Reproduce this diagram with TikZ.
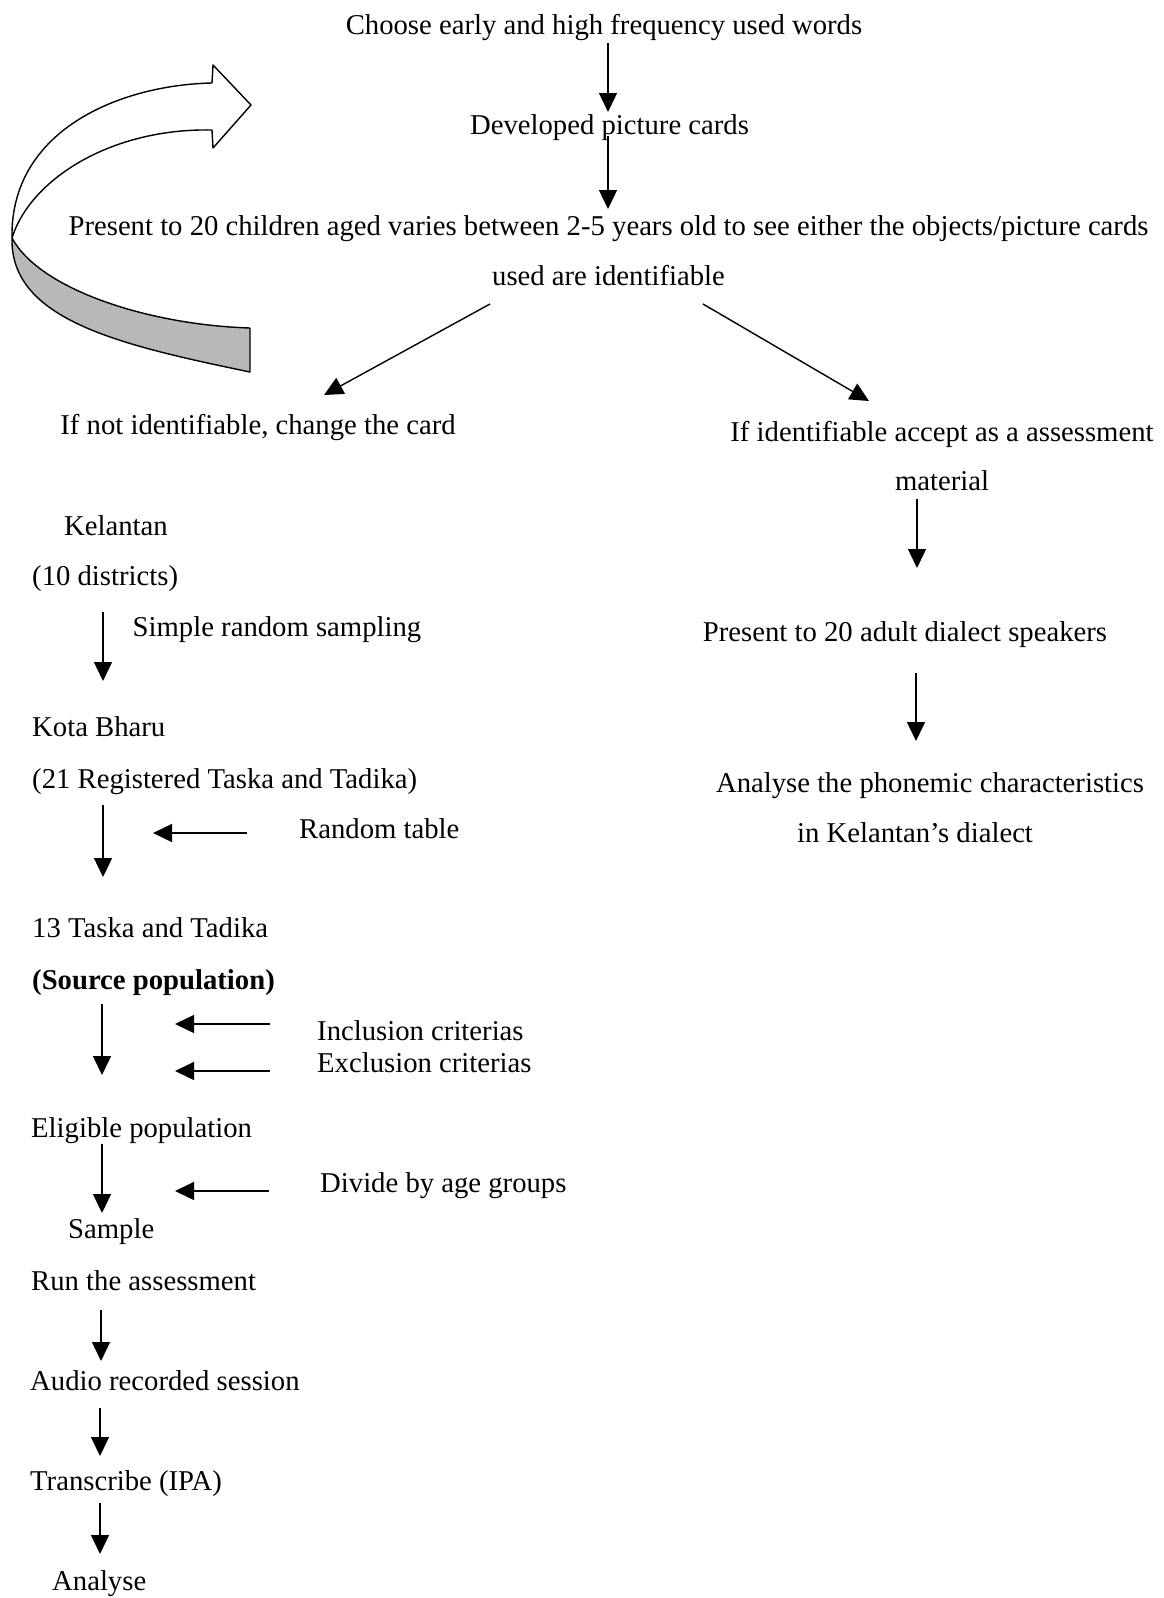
\documentclass[tikz,border=0pt]{standalone}
\usepackage{fontspec}
\setmainfont{Liberation Serif}
\usetikzlibrary{arrows.meta,calc}
\begin{document}
\begin{tikzpicture}[x=1pt,y=-1pt,
  txt/.style={inner sep=0pt,font=\fontsize{28.7}{34}\selectfont},
  ctr/.style={txt,anchor=base},
  lft/.style={txt,anchor=base west},
  arr/.style={-{Triangle[length=19pt,width=18pt]},line width=1.4pt},
  band/.style={draw=black,line width=1.4pt,line join=round}]
\useasboundingbox (0,0) rectangle (1163,1598);
% loop-back arrow
\filldraw[band,fill=black!28] (12,238) .. controls (40,290) and (150,325) .. (250,328)
  -- (250,372) .. controls (120,345) and (10,320) .. (12,238) -- cycle;
\filldraw[band,fill=white] (12,238) .. controls (10,130) and (120,85) .. (212,83)
  -- (213,65) -- (251,105) -- (213,148) -- (212,130)
  .. controls (110,128) and (30,180) .. (12,238) -- cycle;
% top part
\node[ctr] (choose) at (604,34) {Choose early and high frequency used words};
\node[ctr] (dev) at (609.5,134) {Developed picture cards};
\node[ctr] (pres1) at (608.5,235) {Present to 20 children aged varies between 2-5 years old to see either the objects/picture cards};
\node[ctr] (pres2) at (608.5,285) {used are identifiable};
\node[ctr] (notid) at (258,434) {If not identifiable, change the card};
\node[ctr] (isid) at (942,441) {If identifiable accept as a assessment};
\node[ctr] (mat) at (942,490) {material};
\node[ctr] (adult) at (905,641) {Present to 20 adult dialect speakers};
\node[ctr] (phon1) at (930,792) {Analyse the phonemic characteristics};
\node[ctr] (phon2) at (915,842) {in Kelantan's dialect};
\draw[arr] ($(choose.base)+(4,9)$) -- ($(dev.base)+(-1.5,-22)$);
\draw[arr] ($(dev.base)+(-1.5,2)$) -- ($(pres1.base)+(-0.5,-26)$);
\draw[arr] ($(pres2.base)+(-118.5,19)$) -- ($(notid.base)+(66,-39)$);
\draw[arr] ($(pres2.base)+(94.5,19)$) -- ($(isid.base)+(-73,-40)$);
\draw[arr] ($(mat.base)+(-25,9)$) -- ($(adult.base)+(12,-73)$);
\draw[arr] ($(adult.base)+(11,32)$) -- ($(phon1.base)+(-14,-51)$);
% sampling
\node[lft] (kel) at (64,535) {Kelantan};
\node[lft] (dist) at (32,585) {(10 districts)};
\node[lft] (srs) at (132.5,636) {Simple random sampling};
\node[lft] (kota) at (32,736) {Kota Bharu};
\node[lft] (reg) at (32,788) {(21 Registered Taska and Tadika)};
\node[lft] (rt) at (299,838) {Random table};
\node[lft] (taska) at (32,937) {13 Taska and Tadika};
\node[lft,font=\fontsize{28.7}{34}\selectfont\bfseries] (source) at (32,989) {(Source population)};
\node[lft] (incl) at (317,1040) {Inclusion criterias};
\node[lft] (excl) at (317,1072) {Exclusion criterias};
\node[lft] (elig) at (31,1137) {Eligible population};
\node[lft] (div) at (320,1192) {Divide by age groups};
\node[lft] (sample) at (68,1238) {Sample};
\node[lft] (run) at (31,1290) {Run the assessment};
\node[lft] (audio) at (30,1390) {Audio recorded session};
\node[lft] (trans) at (30,1490) {Transcribe (IPA)};
\node[lft] (anal) at (52,1590) {Analyse};
\draw[arr] ($(dist.base west)+(71,27)$) -- ($(kota.base west)+(71,-55)$);
\draw[arr] ($(reg.base west)+(71,17)$) -- ($(taska.base west)+(71,-60)$);
\draw[arr] ($(rt.base west)+(-52,-5)$) -- ($(rt.base west)+(-146,-5)$);
\draw[arr] ($(source.base west)+(70,15)$) -- ($(elig.base west)+(71,-62)$);
\draw[arr] ($(incl.base west)+(-47,-16)$) -- ($(incl.base west)+(-142,-16)$);
\draw[arr] ($(excl.base west)+(-47,-1)$) -- ($(excl.base west)+(-142,-1)$);
\draw[arr] ($(elig.base west)+(71,7)$) -- ($(sample.base west)+(34,-25)$);
\draw[arr] ($(div.base west)+(-51,-1)$) -- ($(div.base west)+(-145,-1)$);
\draw[arr] ($(run.base west)+(70,20)$) -- ($(audio.base west)+(71,-29)$);
\draw[arr] ($(audio.base west)+(70,18)$) -- ($(trans.base west)+(70,-34)$);
\draw[arr] ($(trans.base west)+(70,13)$) -- ($(anal.base west)+(48,-36)$);
\end{tikzpicture}
\end{document}
